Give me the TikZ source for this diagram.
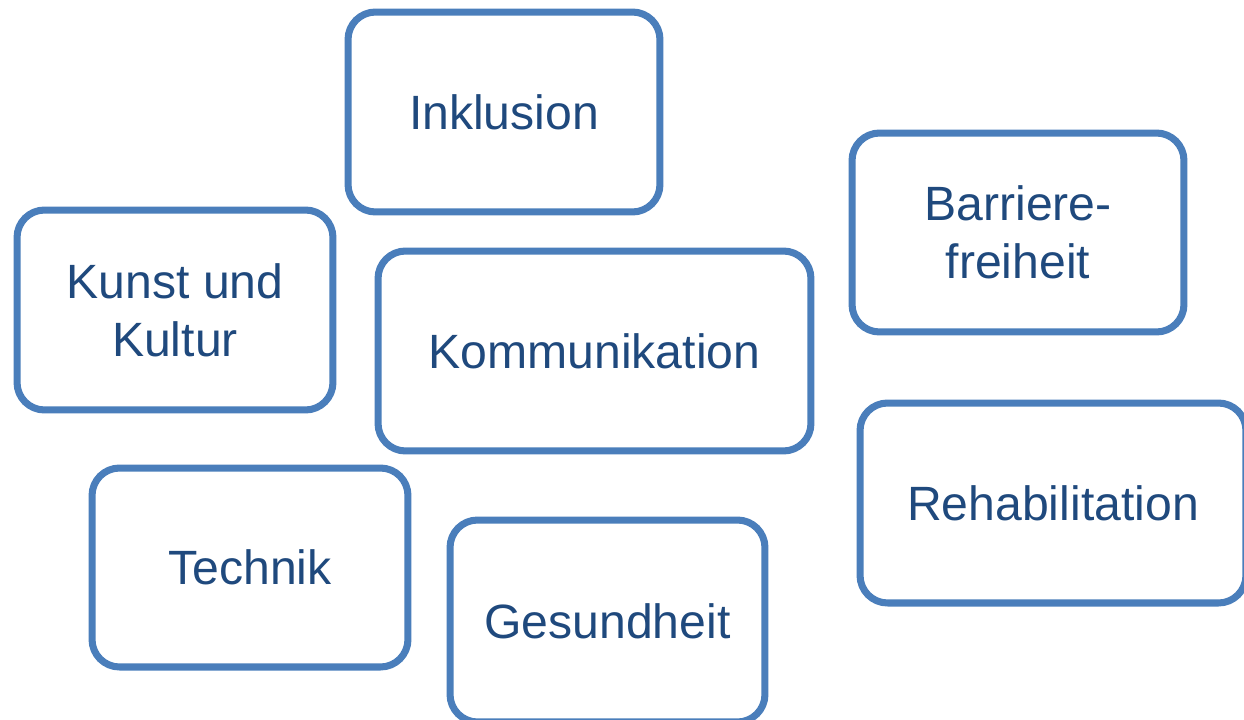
\documentclass[tikz,border=0pt]{standalone}
\usepackage{fontspec}
\setmainfont{Liberation Sans}
\definecolor{rahmenblau}{RGB}{74,126,187}
\definecolor{textblau}{RGB}{31,73,125}

\begin{document}
\begin{tikzpicture}[x=0.02cm,y=-0.02cm,line join=round,
  thema/.style={draw=rahmenblau,line width=4pt,rounded corners=0.55cm,fill=white,
    text=textblau,align=center,inner sep=0pt,
    font=\fontsize{27.4}{33}\selectfont}]
\clip (0,0) rectangle (1244,720);
\node[thema,minimum width=6.24cm,minimum height=4cm] (inkl) at (504,112) {Inklusion};
\node[thema,minimum width=6.64cm,minimum height=3.98cm] (barr) at (1018,232.5) {Barriere-\\freiheit};
\node[thema,minimum width=6.32cm,minimum height=4cm] (kunst) at (175,310) {Kunst und\\Kultur};
\node[thema,minimum width=8.66cm,minimum height=4cm] (komm) at (594.5,351) {Kommunikation};
\node[thema,minimum width=7.72cm,minimum height=4cm] (reha) at (1053,503) {Rehabilitation};
\node[thema,minimum width=6.32cm,minimum height=3.98cm] (tech) at (250,567.5) {Technik};
\node[thema,minimum width=6.3cm,minimum height=4.04cm] (ges) at (607.5,621) {Gesundheit};
\end{tikzpicture}
\end{document}
